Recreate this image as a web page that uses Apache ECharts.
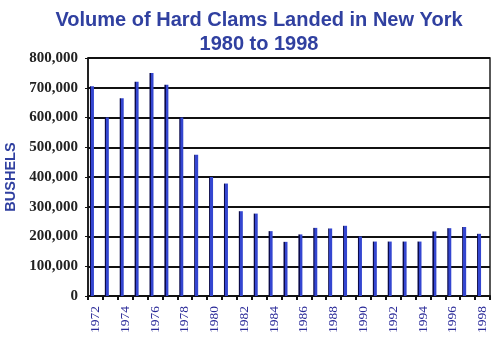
<!DOCTYPE html>
<html>
<head>
<meta charset="utf-8">
<script src="https://cdn.jsdelivr.net/npm/echarts@6/dist/echarts.min.js"></script>
<style>
  html, body { margin: 0; padding: 0; background: #fff; }
  #chart { width: 500px; height: 346px; }
</style>
</head>
<body>
<div id="chart"></div>
<script>
// Hard clam landings in New York, bushels per year
const years = ['1972','1973','1974','1975','1976','1977','1978','1979','1980','1981',
  '1982','1983','1984','1985','1986','1987','1988','1989','1990','1991',
  '1992','1993','1994','1995','1996','1997','1998'];
const bushels = [705000, 600000, 665000, 720000, 750000, 710000, 600000, 475000, 400000, 378000,
  285000, 277000, 218000, 182000, 207000, 229000, 227000, 236000, 200000, 183000,
  183000, 183000, 183000, 217000, 228000, 232000, 209000];
const yTicks = [0, 100000, 200000, 300000, 400000, 500000, 600000, 700000, 800000];

const chart = echarts.init(document.getElementById('chart'), null, { renderer: 'canvas' });

const titleColor = '#3040a0';
const barFill = new echarts.graphic.LinearGradient(0, 0, 1, 0, [
  { offset: 0, color: '#0a0a4a' },
  { offset: 0.3, color: '#0a0a4a' },
  { offset: 0.31, color: '#3446d0' },
  { offset: 1, color: '#3446d0' }
]);

chart.setOption({
  animation: false,
  title: {
    text: 'Volume of Hard Clams Landed in New York\n1980 to 1998',
    left: 254,
    textAlign: 'center',
    top: 3,
    textStyle: {
      fontFamily: 'Liberation Sans, Arial, sans-serif',
      fontWeight: 'bold',
      fontSize: 20,
      lineHeight: 24,
      color: titleColor
    }
  },
  grid: {
    left: 88, right: 10, top: 58, bottom: 50,
    outerBoundsMode: 'none',
    show: true, borderColor: '#222', borderWidth: 1.5
  },
  xAxis: {
    type: 'category',
    data: years,
    boundaryGap: true,
    axisLine: { lineStyle: { color: '#111', width: 2 } },
    axisTick: { show: true, interval: 0, length: 4, lineStyle: { color: '#111', width: 2 } },
    axisLabel: {
      interval: 1,
      rotate: 90,
      margin: 10,
      fontFamily: 'Liberation Serif, Times New Roman, serif',
      fontSize: 13.5,
      color: '#2a2a98'
    }
  },
  yAxis: {
    type: 'value',
    min: yTicks[0],
    max: yTicks[yTicks.length - 1],
    interval: yTicks[1] - yTicks[0],
    name: 'BUSHELS',
    nameLocation: 'middle',
    nameRotate: 90,
    nameGap: 69,
    nameTextStyle: {
      fontFamily: 'Liberation Sans, Arial, sans-serif',
      fontWeight: 'bold',
      fontSize: 14.5,
      color: titleColor
    },
    axisLine: { show: true, lineStyle: { color: '#111', width: 1.5 } },
    axisTick: { show: true, length: 3, lineStyle: { color: '#111' } },
    axisLabel: {
      margin: 10,
      fontFamily: 'Liberation Serif, Times New Roman, serif',
      fontWeight: 'bold',
      fontSize: 15,
      color: '#222',
      formatter: v => v.toLocaleString('en-US')
    },
    splitLine: { show: true, lineStyle: { color: '#111', width: 2 } }
  },
  series: [
    {
      type: 'bar',
      data: bushels,
      barWidth: 4,
      barGap: '75%',
      itemStyle: { color: barFill }
    },
    {
      // empty companion series: keeps each bar toward the left of its year slot
      type: 'bar',
      data: years.map(() => null),
      barWidth: 4,
      silent: true
    }
  ]
});
</script>
</body>
</html>
